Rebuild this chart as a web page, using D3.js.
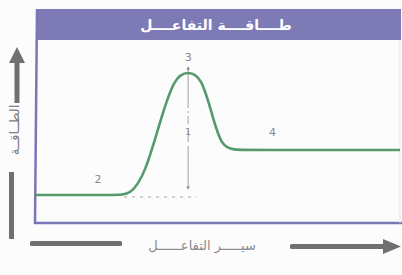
<!DOCTYPE html>
<html>
<head>
<meta charset="utf-8">
<script src="https://cdn.jsdelivr.net/npm/d3@7"></script>
<style>
  body { margin: 0; background: #fcfcfc; }
  svg { display: block; font-family: "DejaVu Sans", "Noto Sans", sans-serif; }
</style>
</head>
<body>
<div id="chart"></div>
<script>
// reaction progress (0-100) and energy (0-100) (spline guide points)
var progress = [0, 22, 26, 30, 34, 38, 41.8, 45.5, 48.5, 51, 54, 60, 100];
var energy   = [15.3, 15.3, 15.3, 27, 55, 80, 83, 80, 58, 42, 39.9, 39.9, 39.9];

var pointLabels = ["1", "2", "3", "4"];
var labelAt = [[41.8, 48], [17, 22], [41.8, 88.5], [65, 47.5]];
var peakX = 41.8, peakE = 81.4, baseE = 15.3;
var dotFrom = 24.2, dotTo = 44.2;

var title = "طــــاقــــة التفاعــــل";
var xTitle = "سيـــــر التفاعــــــل";
var yTitle = "الطــاقــة";

var W = 402, H = 275;
var svg = d3.select("#chart").append("svg").attr("width", W).attr("height", H);

var x = d3.scaleLinear().domain([0, 100]).range([36, 400]);
var y = d3.scaleLinear().domain([0, 100]).range([223, 40]);

var frame = "#7a77b6";

// header band
svg.append("rect").attr("x", 37).attr("y", 9).attr("width", 364).attr("height", 31)
    .attr("fill", "#7e7ab5");
svg.append("text").attr("x", 216).attr("y", 30).attr("text-anchor", "middle")
    .attr("fill", "#fff").attr("font-weight", "bold").attr("font-size", 14)
    .text(title);

// frame
svg.append("path").attr("d", "M37,9 L35,223 L402,223")
    .attr("fill", "none").attr("stroke", frame).attr("stroke-width", 2.5);
svg.append("line").attr("x1", 400).attr("x2", 400).attr("y1", 40).attr("y2", 223)
    .attr("stroke", "#e4e4ee").attr("stroke-width", 1);

// dotted baseline and the vertical arrow
svg.append("line").attr("x1", x(dotFrom)).attr("x2", x(dotTo))
    .attr("y1", y(baseE) + 2).attr("y2", y(baseE) + 2)
    .attr("stroke", "#aaa").attr("stroke-width", 1.2).attr("stroke-dasharray", "3,5");

var defs = svg.append("defs");
defs.append("marker").attr("id", "tip").attr("viewBox", "0 0 10 10")
    .attr("refX", 5).attr("refY", 5).attr("markerWidth", 4).attr("markerHeight", 4)
    .attr("orient", "auto-start-reverse")
    .append("path").attr("d", "M0,0 L10,5 L0,10 Z").attr("fill", "#888");

svg.append("line").attr("x1", x(peakX)).attr("x2", x(peakX))
    .attr("y1", y(peakE) - 6).attr("y2", y(baseE) - 7)
    .attr("stroke", "#999").attr("stroke-width", 0.9)
    .attr("stroke-dasharray", "40,3,2,3,8,6,12,4,40")
    .attr("marker-start", "url(#tip)").attr("marker-end", "url(#tip)");

// energy curve
var line = d3.line().x(function (d, i) { return x(progress[i]); })
    .y(function (d) { return y(d); }).curve(d3.curveBasis);
svg.append("path").datum(energy).attr("d", line)
    .attr("fill", "none").attr("stroke", "#559a6c").attr("stroke-width", 2.6);

// point labels
svg.selectAll("text.pt").data(pointLabels).enter().append("text")
    .attr("class", "pt")
    .attr("x", function (d, i) { return x(labelAt[i][0]); })
    .attr("y", function (d, i) { return y(labelAt[i][1]); })
    .attr("text-anchor", "middle").attr("font-size", function (d) { return d == "1" ? 9 : 11; })
    .attr("fill", "#888").text(function (d) { return d; });

// x axis title with bars
var grey = "#707070";
svg.append("rect").attr("x", 30).attr("y", 241).attr("width", 92).attr("height", 5)
    .attr("rx", 1.5).attr("fill", grey);
svg.append("text").attr("x", 202).attr("y", 250).attr("text-anchor", "middle")
    .attr("fill", "#8a8a8a").attr("font-size", 13).text(xTitle);
svg.append("rect").attr("x", 290).attr("y", 244).attr("width", 96).attr("height", 5)
    .attr("rx", 1.5).attr("fill", grey);
svg.append("path").attr("d", "M383,239 L401,246.5 L383,254 Z").attr("fill", grey);

// y axis title with bars
svg.append("path").attr("d", "M17,47 L25,63 L9,63 Z").attr("fill", grey);
svg.append("rect").attr("x", 14.5).attr("y", 62).attr("width", 5).attr("height", 41)
    .attr("fill", grey);
svg.append("text").attr("transform", "translate(15,130) rotate(-90)")
    .attr("text-anchor", "middle").attr("dominant-baseline", "middle")
    .attr("fill", "#7e7e7e").attr("font-size", 13).text(yTitle);
svg.append("rect").attr("x", 9).attr("y", 172).attr("width", 5).attr("height", 67)
    .attr("fill", grey);
</script>
</body>
</html>
